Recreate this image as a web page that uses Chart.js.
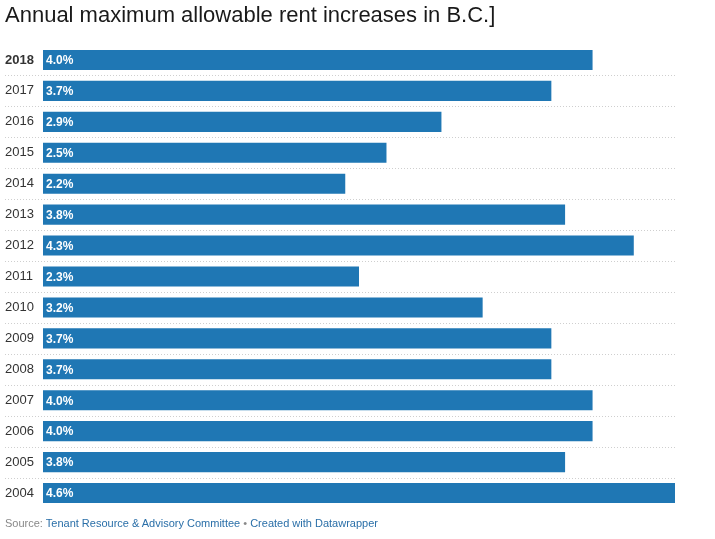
<!DOCTYPE html>
<html>
<head>
<meta charset="utf-8">
<script src="https://cdn.jsdelivr.net/npm/chart.js@4"></script>
<style>
  body { margin: 0; background: #fff; font-family: "Liberation Sans", Arial, sans-serif; }
  #wrap { position: relative; width: 715px; height: 539px; }
  #title { position: absolute; left: 5px; top: 2px; font-size: 22px; color: #1a1a1a; white-space: nowrap; }
  #source { position: absolute; left: 5px; top: 517px; font-size: 11px; color: #888; white-space: nowrap; }
  #source span { color: #2a6fa8; }
  canvas { position: absolute; left: 0; top: 0; }
</style>
</head>
<body>
<div id="wrap">
  <canvas id="rentChart" width="715" height="539"></canvas>
  <div id="title">Annual maximum allowable rent increases in B.C.]</div>
  <div id="source">Source: <span>Tenant Resource &amp; Advisory Committee</span> • <span>Created with Datawrapper</span></div>
</div>
<script>
// -------- DATA --------
const years = ["2018", "2017", "2016", "2015", "2014", "2013", "2012", "2011", "2010", "2009", "2008", "2007", "2006", "2005", "2004"];
const increases = [4.0, 3.7, 2.9, 2.5, 2.2, 3.8, 4.3, 2.3, 3.2, 3.7, 3.7, 4.0, 4.0, 3.8, 4.6];

// -------- PLUGINS --------
// dotted separators between rows
const separadores = {
    id: "separadores",
    beforeDatasetsDraw(chart) {
        const ctx = chart.ctx;
        const y = chart.scales.y;
        ctx.save();
        ctx.strokeStyle = "#cfcfcf";
        ctx.lineWidth = 1;
        ctx.setLineDash([1, 2]);
        for (let i = 0; i < years.length - 1; i++) {
            const yy = Math.round((y.getPixelForValue(i) + y.getPixelForValue(i + 1)) / 2) + 0.5;
            ctx.beginPath();
            ctx.moveTo(5, yy);
            ctx.lineTo(chart.chartArea.right, yy);
            ctx.stroke();
        }
        ctx.restore();
    }
};

// value labels inside the bars
const etiquetas = {
    id: "etiquetas",
    afterDatasetsDraw(chart) {
        const ctx = chart.ctx;
        const meta = chart.getDatasetMeta(0);
        ctx.save();
        ctx.fillStyle = "#fff";
        ctx.font = "bold 12px 'Liberation Sans', Arial, sans-serif";
        ctx.textBaseline = "middle";
        meta.data.forEach((bar, i) => {
            ctx.fillText(increases[i].toFixed(1) + "%", bar.base + 3, bar.y + 1);
        });
        ctx.restore();
    }
};

// -------- CHART --------
new Chart(document.getElementById("rentChart"), {
    type: "bar",
    data: {
        labels: years,
        datasets: [{
            data: increases,
            backgroundColor: "#1f77b4",
            categoryPercentage: 1,
            barPercentage: 0.65
        }]
    },
    options: {
        indexAxis: "y",
        responsive: false,
        animation: false,
        layout: { padding: { top: 44.5, bottom: 30.5, left: 5, right: 40 } },
        plugins: {
            legend: { display: false },
            tooltip: { enabled: false }
        },
        scales: {
            x: { display: false, min: 0, max: 4.6 },
            y: {
                grid: { display: false },
                border: { display: false },
                afterFit(scale) { scale.width = 38; },
                ticks: {
                    crossAlign: "far",
                    color: "#333",
                    padding: 0,
                    font: ctx => ({
                        family: "'Liberation Sans', Arial, sans-serif",
                        size: 13,
                        weight: ctx.index === 0 ? "bold" : "normal"
                    })
                }
            }
        }
    },
    plugins: [separadores, etiquetas]
});
</script>
</body>
</html>
